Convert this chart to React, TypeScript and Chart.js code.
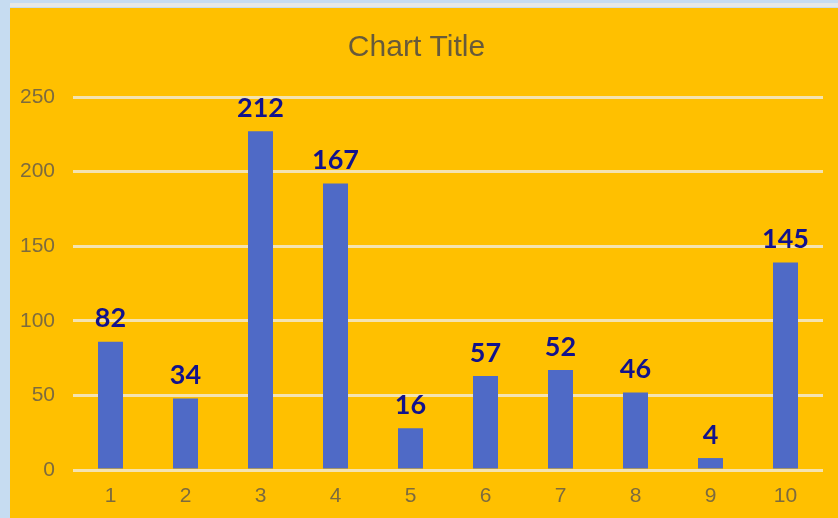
import React, { useEffect, useRef } from "react";
import { Chart, registerables } from "chart.js";

Chart.register(...registerables);

const categories = ["1", "2", "3", "4", "5", "6", "7", "8", "9", "10"];
const barValues = [86, 48, 227, 192, 28, 63, 67, 52, 8, 139];
const labelTexts = ["82", "34", "212", "167", "16", "57", "52", "46", "4", "145"];
const yTicks = [0, 50, 100, 150, 200, 250];

const labelPlugin = {
  id: "barLabels",
  afterDatasetsDraw(chart: any) {
    const ctx = chart.ctx;
    const meta = chart.getDatasetMeta(0);
    ctx.save();
    ctx.font = "bold 27px Lato, 'Open Sans', sans-serif";
    ctx.fillStyle = "#12128c";
    ctx.textAlign = "center";
    ctx.textBaseline = "middle";
    meta.data.forEach((bar: any, i: number) => {
      ctx.fillText(labelTexts[i], bar.x, bar.y - 23);
    });
    ctx.restore();
  },
};

export default function App() {
  const ref = useRef<HTMLCanvasElement | null>(null);
  useEffect(() => {
    if (!ref.current) return;
    const chart = new Chart(ref.current, {
      type: "bar",
      data: {
        labels: categories,
        datasets: [
          {
            data: barValues,
            backgroundColor: "#4F6AC6",
            barPercentage: 1 / 3,
            categoryPercentage: 1,
          },
        ],
      },
      options: {
        responsive: false,
        animation: false,
        devicePixelRatio: 1,
        layout: { padding: { left: 0, right: 15, top: 0, bottom: 0 } },
        plugins: {
          legend: { display: false },
          tooltip: { enabled: false },
          title: {
            display: true,
            text: "Chart Title",
            color: "#675a3a",
            font: { family: "'Liberation Sans', Arial, sans-serif", size: 30, weight: "normal" },
            padding: { top: 22, bottom: 31 },
          },
        },
        scales: {
          x: {
            afterFit: (s: any) => {
              s.height = 48;
            },
            grid: { display: false, drawTicks: false },
            border: { display: false },
            ticks: {
              color: "#7d6b3e",
              padding: 14,
              maxRotation: 0,
              font: { family: "'Liberation Sans', Arial, sans-serif", size: 21 },
            },
          },
          y: {
            min: 0,
            max: 250,
            afterFit: (s: any) => {
              s.width = 63;
            },
            afterBuildTicks: (s: any) => {
              s.ticks = yTicks.map((v) => ({ value: v }));
            },
            grid: { color: "#F4E3B0", lineWidth: 3, drawTicks: false },
            border: { display: false },
            ticks: {
              color: "#7d6b3e",
              padding: 18,
              font: { family: "'Liberation Sans', Arial, sans-serif", size: 21 },
            },
          },
        },
      },
      plugins: [labelPlugin],
    });
    return () => chart.destroy();
  }, []);

  return (
    <div
      style={{
        position: "fixed",
        left: 0,
        top: 0,
        width: 838,
        height: 518,
        background: "#C6DCF1",
        overflow: "hidden",
      }}
    >
      <div
        style={{
          position: "absolute",
          left: 10,
          top: 3,
          width: 828,
          height: 4,
          background: "#E6E8E6",
        }}
      />
      <div
        style={{
          position: "absolute",
          left: 10,
          top: 8,
          width: 828,
          height: 510,
          background: "#FFC000",
        }}
      >
        <canvas ref={ref} width={828} height={510} style={{ display: "block" }} />
      </div>
    </div>
  );
}
